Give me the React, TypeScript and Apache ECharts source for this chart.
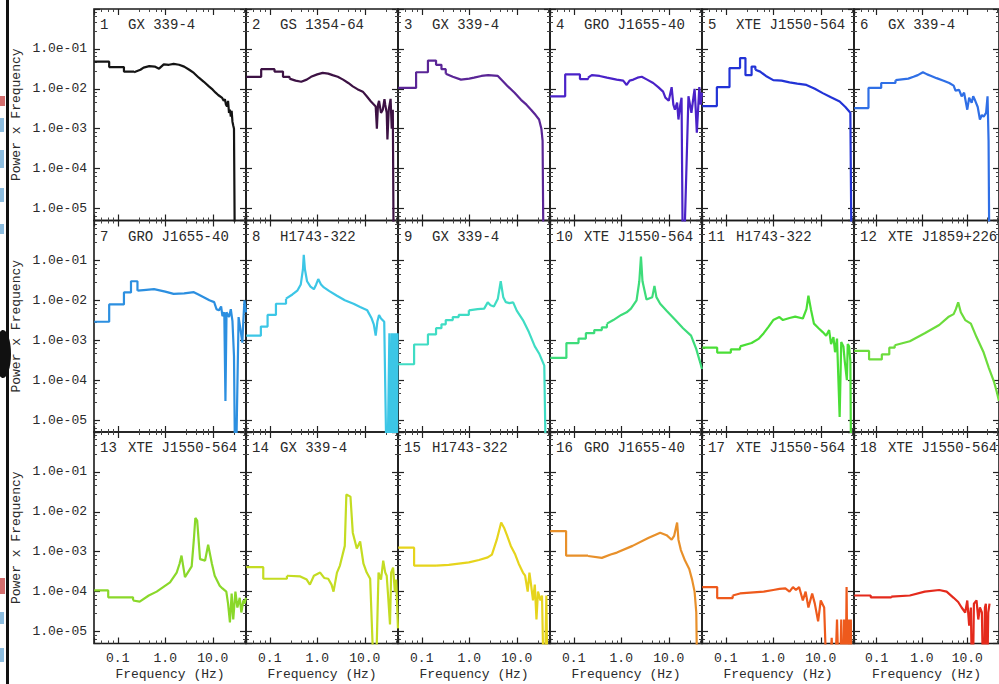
import React, { useEffect, useRef } from "react";
import * as echarts from "echarts";

// ---------- data ----------
const PANEL_SOURCES = [
  "GX 339-4", "GS 1354-64", "GX 339-4", "GRO J1655-40", "XTE J1550-564", "GX 339-4",
  "GRO J1655-40", "H1743-322", "GX 339-4", "XTE J1550-564", "H1743-322", "XTE J1859+226",
  "XTE J1550-564", "GX 339-4", "H1743-322", "GRO J1655-40", "XTE J1550-564", "XTE J1550-564",
];

const X_NAME = "Frequency (Hz)";
const Y_NAME = "Power x Frequency";
const X_TICK_LABELS: Record<string, string> = { "-1": "0.1", "0": "1.0", "1": "10.0" };

const X_MIN = Math.pow(10, -1.5);
const X_MAX = Math.pow(10, 1.7);
const Y_MIN = Math.pow(10, -5.3);
const Y_MAX = 1;

// [frequency (Hz), power x frequency]
const P1 = [[0.032,0.048],[0.066,0.035],[0.135,0.027],[0.22,0.026],[0.3,0.03],[0.35,0.034],[0.46,0.037],[0.6,0.036],[0.74,0.032],[0.93,0.041],[1.2,0.04],[1.5,0.042],[1.95,0.04],[2.5,0.036],[3.2,0.03],[4.0,0.025],[5.1,0.019],[6.5,0.015],[8.3,0.0115],[10,0.0095],[11.5,0.008],[13,0.007],[15.8,0.0059],[17,0.005],[18,0.0055],[19,0.004],[20,0.0036],[21,0.005],[22,0.0025],[23,0.003],[24,0.002],[25,0.0028],[26,0.0015],[27,0.0012],[28,0.001],[29.5,1e-7],[50,1e-7]];
const P2 = [[0.032,0.02],[0.066,0.031],[0.126,0.027],[0.19,0.02],[0.26,0.018],[0.35,0.016],[0.46,0.015],[0.6,0.017],[0.74,0.02],[1.0,0.023],[1.3,0.025],[1.7,0.024],[2.1,0.022],[2.7,0.02],[3.5,0.017],[4.5,0.014],[5.6,0.0115],[7,0.0098],[9.1,0.0085],[11,0.0065],[13.5,0.0048],[15,0.0042],[17,0.0036],[18,0.001],[19,0.004],[20,0.005],[22,0.0025],[24,0.003],[26,0.0055],[27,0.004],[29,0.0025],[30,0.00054],[32,0.003],[35,0.0056],[37,0.001],[39,0.003],[41,1e-7],[50,1e-7]];
const P3 = [[0.032,0.0105],[0.076,0.026],[0.135,0.051],[0.2,0.04],[0.26,0.031],[0.32,0.024],[0.45,0.02],[0.67,0.017],[1.0,0.018],[1.26,0.019],[1.8,0.021],[2.5,0.022],[4,0.021],[5,0.016],[6.5,0.0115],[9,0.008],[12.3,0.0053],[16,0.004],[20,0.003],[25,0.0022],[29.5,0.0017],[33,0.001],[35,0.0005],[37,1e-7],[50,1e-7]];
const P4 = [[0.032,0.0065],[0.066,0.023],[0.135,0.0175],[0.2,0.019],[0.24,0.022],[0.35,0.021],[0.5,0.019],[0.8,0.017],[1.1,0.016],[1.3,0.0125],[1.5,0.016],[1.8,0.017],[2.2,0.019],[2.7,0.02],[3.5,0.017],[4.7,0.014],[6,0.011],[7.6,0.0085],[8.5,0.006],[10,0.005],[11.5,0.011],[12.5,0.004],[13.5,0.003],[15,0.0045],[16,0.0017],[17.5,0.004],[18.6,0.006],[20,1e-7],[26,0.0065],[28,0.004],[30,0.0025],[33,0.006],[35,0.01],[37,0.003],[39,0.0008],[42,0.004],[44,0.011],[47,0.004],[50,0.008]];
const P5 = [[0.032,0.0037],[0.065,0.011],[0.12,0.033],[0.2,0.059],[0.26,0.022],[0.35,0.036],[0.42,0.03],[0.53,0.027],[0.7,0.021],[1.0,0.0165],[1.5,0.016],[2.2,0.0145],[3.2,0.0135],[5,0.0125],[7.5,0.01],[11,0.0078],[16,0.0062],[25,0.0048],[33,0.0035],[42,0.0025],[45,1e-7],[50,1e-7]];
const P6 = [[0.032,0.0033],[0.066,0.0105],[0.126,0.014],[0.26,0.0165],[0.5,0.018],[0.65,0.02],[0.81,0.022],[1.05,0.026],[1.3,0.023],[1.6,0.021],[2.1,0.0185],[3,0.016],[4,0.014],[5,0.012],[5.5,0.009],[6.6,0.0094],[7.5,0.0065],[8.5,0.008],[10,0.003],[11,0.006],[12.5,0.0045],[13.5,0.0065],[15,0.005],[17,0.0035],[19,0.0017],[21,0.0022],[23,0.002],[26,0.0025],[28,0.0065],[29.5,0.0005],[31,1e-7],[50,1e-7]];
const P7 = [[0.032,0.0029],[0.066,0.0079],[0.135,0.0158],[0.19,0.03],[0.26,0.0174],[0.35,0.018],[0.58,0.019],[1.0,0.0165],[1.5,0.0145],[2.5,0.015],[4,0.016],[5,0.014],[6.6,0.0118],[8.5,0.01],[10.7,0.009],[12,0.006],[13.5,0.0056],[15,0.007],[16,0.004],[17.5,0.005],[18.5,3e-5],[19.5,0.005],[22,0.0038],[24,0.006],[26,0.003],[28,0.0004],[30,1e-7],[35,0.0038],[38,0.002],[42,0.00087],[44,0.003],[46.5,0.01],[50,0.005]];
const P8 = [[0.032,0.0013],[0.065,0.0022],[0.09,0.0043],[0.135,0.0082],[0.22,0.011],[0.3,0.014],[0.38,0.0174],[0.45,0.025],[0.5,0.06],[0.52,0.138],[0.55,0.06],[0.61,0.03],[0.72,0.022],[0.85,0.019],[0.95,0.025],[1.05,0.034],[1.2,0.025],[1.38,0.021],[1.8,0.017],[2.6,0.013],[3.8,0.01],[5.8,0.0082],[8,0.0068],[11.3,0.0056],[14,0.0035],[15.5,0.0025],[17,0.0013],[18.5,0.003],[20,0.0043],[22,0.0035],[25.7,0.0029],[29.5,1e-7],[33,0.0015],[35,1e-7],[37,0.0015],[39,1e-7],[41,0.0015],[43,1e-7],[45,0.0015],[47,1e-7],[49,0.0015]];
const P9 = [[0.032,0.00025],[0.069,0.00078],[0.135,0.0014],[0.2,0.002],[0.26,0.0025],[0.32,0.0032],[0.45,0.0038],[0.6,0.0043],[0.98,0.0056],[1.5,0.006],[2.06,0.0062],[2.45,0.0089],[2.8,0.0075],[3.3,0.007],[4.0,0.011],[4.6,0.03],[5.2,0.012],[5.9,0.009],[7,0.0085],[8.4,0.0089],[10,0.0055],[13.5,0.0032],[18,0.0016],[24,0.0007],[30,0.00045],[38,0.00023],[42,1e-7],[50,1e-7]];
const P10 = [[0.032,0.00036],[0.07,0.00085],[0.126,0.0011],[0.18,0.0015],[0.27,0.0018],[0.39,0.0021],[0.5,0.0026],[0.68,0.0032],[1.0,0.0043],[1.3,0.005],[1.6,0.0062],[2.1,0.01],[2.4,0.03],[2.6,0.125],[2.8,0.03],[3.4,0.0105],[4.5,0.012],[5.0,0.023],[5.5,0.012],[6.6,0.0082],[9,0.0055],[13.8,0.0032],[20,0.002],[29.5,0.0013],[38,0.0006],[45,0.0003],[50,0.00019]];
const P11 = [[0.032,0.00065],[0.066,0.00049],[0.128,0.00059],[0.2,0.0007],[0.35,0.00085],[0.5,0.0011],[0.63,0.0015],[0.8,0.0022],[1.0,0.0032],[1.35,0.0038],[1.6,0.0032],[2.2,0.0036],[2.9,0.0039],[4.2,0.0035],[5.0,0.006],[5.5,0.013],[6.2,0.006],[7.2,0.0026],[9,0.002],[11,0.0016],[13,0.0013],[15,0.0018],[16.5,0.0008],[18.5,0.0012],[20,0.0005],[22,0.0011],[25,1.2e-5],[27,0.0009],[30,0.0007],[32,0.0003],[35.5,0.0001],[37,0.0008],[39.5,0.0007],[42,0.0003],[44,1e-7],[50,1e-7]];
const P12 = [[0.032,0.00054],[0.068,0.00033],[0.13,0.00044],[0.19,0.00065],[0.25,0.00075],[0.54,0.00094],[1.15,0.0015],[2.4,0.0024],[3.8,0.0038],[5.0,0.0045],[5.6,0.006],[6.3,0.0089],[7.2,0.005],[9,0.0032],[12,0.0026],[16,0.0012],[23,0.00049],[30,0.0002],[39,0.00009],[45,0.00005],[50,0.00003]];
const P13 = [[0.032,0.000107],[0.063,0.000072],[0.21,0.00006],[0.29,0.000056],[0.45,0.00008],[0.66,0.0001],[1.26,0.00017],[1.74,0.0003],[2.0,0.0005],[2.2,0.0008],[2.6,0.00023],[3.6,0.00043],[4.0,0.002],[4.3,0.007],[4.7,0.006],[5.4,0.00065],[6.9,0.0006],[8.0,0.0015],[9.6,0.0005],[11,0.00025],[14,0.00014],[16,0.00012],[19.3,0.0001],[21,0.00005],[23,1.7e-5],[25,0.00009],[27,2e-5],[30,0.0001],[33,0.00004],[37,0.00007],[40,0.00003],[44,0.00006],[47,0.00005],[50,0.00007]];
const P14 = [[0.032,0.00041],[0.073,0.00021],[0.23,0.00025],[0.44,0.00024],[0.6,0.0002],[0.7,0.00015],[0.85,0.00025],[1.15,0.0003],[1.4,0.00022],[1.7,0.00021],[2.0,0.00015],[2.2,0.0001],[2.6,0.0003],[3.0,0.00045],[3.8,0.0014],[4.1,0.027],[5.0,0.024],[5.6,0.003],[6.8,0.0012],[8.0,0.0018],[9.4,0.0005],[11,0.0003],[13,0.00021],[16.5,1e-7],[19.5,0.0003],[22,0.0002],[24.5,0.0006],[27,0.0003],[29,0.00025],[31,0.00008],[34,1.5e-5],[36,0.0003],[39.5,0.0004],[43,0.0001],[46,0.0002],[50,1.2e-5]];
const P15 = [[0.032,0.00126],[0.069,0.00045],[0.2,0.00045],[0.37,0.00047],[0.98,0.00054],[1.6,0.00062],[2.45,0.00072],[3.0,0.00085],[3.8,0.002],[4.7,0.0054],[5.4,0.004],[6.3,0.0025],[7.5,0.0014],[9.3,0.00085],[11,0.0005],[13.5,0.0003],[15,0.00025],[17,0.0001],[18.5,0.0003],[20,0.00015],[22,0.00006],[24,0.00015],[26,0.00002],[28,0.0001],[31.6,0.00006],[34,0.00008],[38,1e-7],[42,0.00008],[45,1e-7],[50,1e-7]];
const P16 = [[0.032,0.0033],[0.069,0.0008],[0.2,0.00078],[0.39,0.0007],[0.6,0.00085],[0.81,0.00095],[1.73,0.0014],[3.7,0.0022],[6.6,0.003],[9,0.0026],[11.5,0.002],[13,0.0025],[15,0.0054],[16,0.002],[18,0.0011],[22,0.0006],[27,0.00037],[31,0.0002],[35,0.0001],[38,0.00003],[40.5,1e-7],[50,1e-7]];
const P17 = [[0.032,0.00013],[0.066,0.000069],[0.14,0.00008],[0.2,0.00009],[0.63,0.0001],[1.0,0.00011],[1.35,0.000117],[1.8,0.00012],[2.2,0.0001],[2.6,0.00013],[3.0,0.00011],[3.5,0.00013],[4.2,0.00006],[4.8,0.0001],[5.5,0.00004],[6.6,0.00009],[7.5,0.00005],[8.8,1.8e-5],[10,0.00006],[11.8,0.00004],[14,1e-7],[17,7e-6],[19,1e-7],[22,0.00002],[25,1e-7],[27,0.00002],[29,1e-7],[31,0.00002],[33,1e-7],[35,0.00013],[37,1e-7],[39,0.00002],[41,1e-7],[43,0.00002],[45,1e-7],[50,1e-7]];
const P18 = [[0.032,0.00008],[0.074,0.000072],[0.21,0.000075],[0.54,0.00008],[1.15,0.0001],[2.4,0.00011],[3.5,0.0001],[5,0.00007],[6.3,0.000055],[7.5,0.00004],[9,0.00003],[10,0.00006],[11,1.4e-5],[12,0.00004],[13,1e-7],[14,0.00005],[16,0.00006],[17.5,0.00002],[19,0.00004],[21,0.00003],[23,1e-7],[24.5,0.00004],[25.7,0.00005],[27,1e-7],[29,0.00003],[31,0.00005]];

const SERIES_DATA = [P1, P2, P3, P4, P5, P6, P7, P8, P9, P10, P11, P12, P13, P14, P15, P16, P17, P18];
// number of coarse low-frequency bins (drawn as a histogram) before the finely binned part
const COARSE_BINS = [3, 4, 5, 3, 6, 3, 4, 4, 8, 6, 3, 4, 2, 2, 2, 2, 2, 2];

// ---------- styles ----------
const COLORS = [
  "#141414", "#3d1244", "#5a2596", "#4a22c8", "#2233d6", "#2f6fe6",
  "#2c8fe0", "#3cc6e6", "#3fdcc4", "#3ddc7a", "#4ade36", "#6cdc3c",
  "#8ad82a", "#c4dc22", "#e6d41c", "#e8902a", "#ee5a1c", "#e42a1c",
];
const FONT = "Liberation Mono";
const TEXT_COLOR = "#2a2a2a";

function buildOption() {
  const grid: any[] = [];
  const xAxis: any[] = [];
  const yAxis: any[] = [];
  const series: any[] = [];
  const graphic: any[] = [];

  const colW = 152;
  const rowH = 211.5;

  for (let i = 0; i < 18; i++) {
    const r = Math.floor(i / 6);
    const c = i % 6;
    const left = 94 + colW * c;
    const top = 9 + rowH * r;
    grid.push({
      left, top, width: colW, height: rowH,
      show: true, borderColor: "#1a1a1a", borderWidth: 1.6, backgroundColor: "transparent",
    });

    const tickStyle = { color: "#222", width: 1.2 };
    const baseX = {
      type: "log", logBase: 10, gridIndex: i, min: X_MIN, max: X_MAX,
      axisLine: { show: false },
      axisTick: { show: true, inside: true, length: 6, lineStyle: tickStyle },
      minorTick: { show: true, splitNumber: 5, length: 3, lineStyle: { color: "#444", width: 1 } },
      splitLine: { show: false }, minorSplitLine: { show: false },
    };
    xAxis.push({
      ...baseX, position: "bottom",
      axisLabel: {
        show: r === 2, showMinLabel: false, showMaxLabel: false, margin: 8,
        fontFamily: FONT, fontSize: 13, color: TEXT_COLOR,
        formatter: (v: number) => X_TICK_LABELS[String(Math.round(Math.log10(v)))] ?? "",
      },
      name: r === 2 ? X_NAME : "", nameLocation: "middle", nameGap: 24,
      nameTextStyle: { fontFamily: FONT, fontSize: 13, color: TEXT_COLOR },
    });
    xAxis.push({ ...baseX, position: "top", axisLabel: { show: false } });

    const baseY = {
      type: "log", logBase: 10, gridIndex: i, min: Y_MIN, max: Y_MAX,
      axisLine: { show: false },
      axisTick: { show: true, inside: true, length: 6, lineStyle: tickStyle },
      minorTick: { show: true, splitNumber: 5, length: 3, lineStyle: { color: "#444", width: 1 } },
      splitLine: { show: false }, minorSplitLine: { show: false },
    };
    yAxis.push({
      ...baseY, position: "left",
      axisLabel: {
        show: c === 0, showMinLabel: false, showMaxLabel: false, margin: 7,
        fontFamily: FONT, fontSize: 13, color: TEXT_COLOR,
        formatter: (v: number) => {
          const e = Math.round(Math.log10(v));
          return "1.0e" + (e < 0 ? "-" : "+") + String(Math.abs(e)).padStart(2, "0");
        },
      },
      name: c === 0 ? Y_NAME : "", nameLocation: "middle", nameGap: 71,
      nameTextStyle: { fontFamily: FONT, fontSize: 13, color: TEXT_COLOR },
    });
    yAxis.push({ ...baseY, position: "right", axisLabel: { show: false } });

    const data = SERIES_DATA[i];
    const k = COARSE_BINS[i];
    const lineStyle = { color: COLORS[i], width: 2.2 };
    series.push({
      type: "line", xAxisIndex: 2 * i, yAxisIndex: 2 * i,
      data: data.slice(0, k + 1), step: "end", symbol: "none", silent: true,
      color: COLORS[i], lineStyle,
    });
    series.push({
      type: "line", xAxisIndex: 2 * i, yAxisIndex: 2 * i,
      data: data.slice(k), symbol: "none", silent: true,
      color: COLORS[i], lineStyle,
    });

    graphic.push({
      type: "text", x: left + 6, y: top + 16,
      style: { text: String(i + 1), font: `14px "${FONT}"`, fill: TEXT_COLOR, verticalAlign: "middle" },
    });
    graphic.push({
      type: "text", x: left + 34, y: top + 16,
      style: { text: PANEL_SOURCES[i], font: `14px "${FONT}"`, fill: TEXT_COLOR, verticalAlign: "middle" },
    });
  }

  // left edge remnants of the slide
  graphic.push({ type: "rect", shape: { x: 6, y: 0, width: 3, height: 684 }, style: { fill: "#111" } });
  graphic.push({ type: "ellipse", shape: { cx: 3, cy: 354, rx: 8, ry: 24 }, style: { fill: "#111" } });
  graphic.push({ type: "rect", shape: { x: 0, y: 96, width: 5, height: 10 }, style: { fill: "#c84848", opacity: 0.8 } });
  graphic.push({ type: "rect", shape: { x: 0, y: 118, width: 4, height: 14 }, style: { fill: "#3f8fc8", opacity: 0.6 } });
  graphic.push({ type: "rect", shape: { x: 0, y: 150, width: 4, height: 18 }, style: { fill: "#3f8fc8", opacity: 0.6 } });
  graphic.push({ type: "rect", shape: { x: 0, y: 188, width: 4, height: 14 }, style: { fill: "#3f8fc8", opacity: 0.6 } });
  graphic.push({ type: "rect", shape: { x: 0, y: 224, width: 4, height: 10 }, style: { fill: "#3f8fc8", opacity: 0.6 } });
  graphic.push({ type: "rect", shape: { x: 0, y: 578, width: 5, height: 16 }, style: { fill: "#c84848", opacity: 0.8 } });
  graphic.push({ type: "rect", shape: { x: 0, y: 612, width: 4, height: 12 }, style: { fill: "#3f8fc8", opacity: 0.6 } });
  graphic.push({ type: "rect", shape: { x: 0, y: 648, width: 4, height: 14 }, style: { fill: "#3f8fc8", opacity: 0.6 } });

  return {
    animation: false,
    backgroundColor: "#ffffff",
    grid, xAxis, yAxis, series, graphic,
  };
}

export default function App() {
  const ref = useRef<HTMLDivElement>(null);
  useEffect(() => {
    if (!ref.current) return;
    const chart = echarts.init(ref.current, undefined, { renderer: "svg" });
    chart.setOption(buildOption() as any);
    return () => chart.dispose();
  }, []);
  return (
    <div
      ref={ref}
      style={{ position: "fixed", left: 0, top: 0, width: 999, height: 684, background: "#fff" }}
    />
  );
}
